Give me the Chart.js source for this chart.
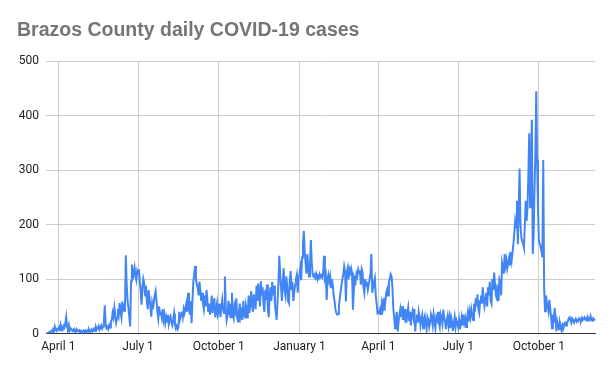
<!DOCTYPE html>
<html><head><meta charset="utf-8">
<script src="https://cdn.jsdelivr.net/npm/chart.js@4"></script>
<style>html,body{margin:0;padding:0;background:#fff;} #wrap{width:613px;height:371px;}</style>
</head><body><div id="wrap"><canvas id="c" width="613" height="371"></canvas></div>
<script>
// ---- Data (daily new cases) ----
const startDate = '2020-03-18';
const cases2020 = [
  // Mar 18-31
  1,0,1,2,3,2,5,4,8,6,13,7,5,9,
  // Apr
  8,12,6,15,10,7,14,11,18,30,12,9,16,6,10,8,5,7,4,6,3,8,5,4,6,3,5,2,4,6,
  // May
  3,5,2,6,4,7,3,5,8,4,6,9,5,12,8,10,14,7,11,15,9,13,20,52,18,10,12,8,15,11,22,
  // Jun
  25,38,30,47,33,20,28,45,35,56,40,30,59,45,50,40,144,90,60,47,30,13,96,127,100,112,121,105,98,115,
  // Jul
  110,118,95,78,53,85,100,92,70,88,60,45,80,65,50,31,55,45,60,70,78,60,40,28,50,35,40,30,45,25,35,
  // Aug
  20,30,22,35,18,28,32,20,15,25,37,18,10,14,8,12,40,28,35,40,30,45,38,47,55,40,75,50,35,60,19,
  // Sep
  60,95,110,124,100,90,85,70,95,80,60,75,55,45,70,50,80,62,40,55,35,45,70,38,50,65,30,42,55,35,
  // Oct
  40,55,30,48,62,45,38,105,45,25,35,60,42,55,30,75,35,28,50,42,65,30,22,40,55,35,48,25,60,38,30,
  // Nov
  52,45,28,70,38,55,78,50,40,72,60,45,88,60,92,75,50,96,70,85,55,40,80,62,90,45,30,70,85,60,
  // Dec
  95,70,88,55,40,25,60,90,143,110,85,60,95,120,80,70,105,88,60,56,100,115,80,95,60,75,90,100,108,75,105
];
const cases2021 = [
  // Jan
  108,120,98,140,165,189,150,130,110,146,120,105,125,172,130,110,105,108,103,110,104,106,102,109,104,107,103,110,143,102,108,
  // Feb
  62,100,108,96,105,85,100,90,70,60,45,38,35,36,50,65,78,90,100,110,124,115,59,112,120,100,118,112,
  // Mar
  120,112,44,80,100,95,110,105,118,112,116,90,118,112,85,75,100,88,95,81,90,100,110,146,75,85,95,102,70,55,38,
  // Apr
  40,38,45,36,55,48,65,42,60,75,81,70,95,100,109,105,85,47,30,10,25,40,4,20,35,45,30,50,25,40,
  // May
  30,45,20,38,48,25,40,15,35,42,30,45,4,25,35,20,40,30,15,28,35,10,25,32,20,8,30,25,12,20,35,
  // Jun
  28,15,35,22,10,30,25,40,20,12,35,28,18,44,30,22,8,25,33,15,28,10,30,22,5,18,30,12,25,20,
  // Jul
  12,25,8,18,30,15,35,20,28,12,25,38,22,40,30,45,35,25,55,40,65,50,72,45,38,60,70,55,85,65,50,
  // Aug
  60,75,50,85,70,95,60,55,100,80,112,90,70,65,78,60,100,95,70,130,121,110,146,125,135,120,130,139,125,150,135,
  // Sep
  150,165,185,207,195,244,164,230,303,200,177,170,165,158,200,244,207,230,290,368,232,300,393,146,180,263,330,445,320,230,
  // Oct
  170,165,160,150,140,319,84,41,70,59,50,41,62,45,30,10,35,20,47,30,4,22,15,8,20,13,5,15,10,18,20,
  // Nov
  15,20,22,28,30,25,20,28,25,22,24,27,22,25,23,28,26,24,29,25,27,30,26,28,24,30,27,25,32,26,
  // Dec 1-4
  24,28,25,27
];
const tickDates = ['2020-04-01','2020-07-01','2020-10-01','2021-01-01','2021-04-01','2021-07-01','2021-10-01'];
const tickLabels = ['April 1','July 1','October 1','January 1','April 1','July 1','October 1'];
const yTicks = [0,100,200,300,400,500];

// ---- Build categories ----
const values = cases2020.concat(cases2021);
const dates = [];
const d0 = new Date(startDate + 'T00:00:00Z');
for (let i = 0; i < values.length; i++) {
  dates.push(new Date(d0.getTime() + i * 86400000).toISOString().slice(0, 10));
}

const tickFont = {family: 'Roboto, "Liberation Sans", Arial, sans-serif', size: 12};

new Chart(document.getElementById('c'), {
  type: 'line',
  data: {
    labels: dates,
    datasets: [{
      data: values,
      borderColor: '#4285f4',
      borderWidth: 2,
      pointRadius: 0,
      tension: 0,
      fill: false
    }]
  },
  options: {
    responsive: false,
    animation: false,
    devicePixelRatio: 1,
    layout: {padding: {left: 17, right: 18, top: 0, bottom: 11}},
    plugins: {
      legend: {display: false},
      tooltip: {enabled: false},
      title: {
        display: true,
        text: 'Brazos County daily COVID-19 cases',
        align: 'start',
        color: '#757575',
        font: {family: '"Liberation Sans", Arial, sans-serif', size: 19.5, weight: 'bold'},
        padding: {top: 19, bottom: 19}
      }
    },
    scales: {
      x: {
        type: 'category',
        offset: false,
        afterBuildTicks: s => { s.ticks = s.ticks.filter(t => tickDates.includes(dates[t.value])); },
        ticks: {
          autoSkip: false, maxRotation: 0, minRotation: 0, padding: 6,
          color: '#222', font: tickFont,
          callback: (v) => { const k = tickDates.indexOf(dates[v]); return k >= 0 ? tickLabels[k] : null; }
        },
        grid: {color: '#cccccc', drawTicks: false},
        border: {display: true, color: '#333333', width: 1}
      },
      y: {
        min: 0, max: 500,
        afterBuildTicks: s => { s.ticks = yTicks.map(v => ({value: v})); },
        afterFit: s => { s.width = 29; },
        ticks: {padding: 7, color: '#222', font: tickFont},
        grid: {color: '#cccccc', drawTicks: false},
        border: {display: false}
      }
    }
  }
});
</script>
</body></html>
